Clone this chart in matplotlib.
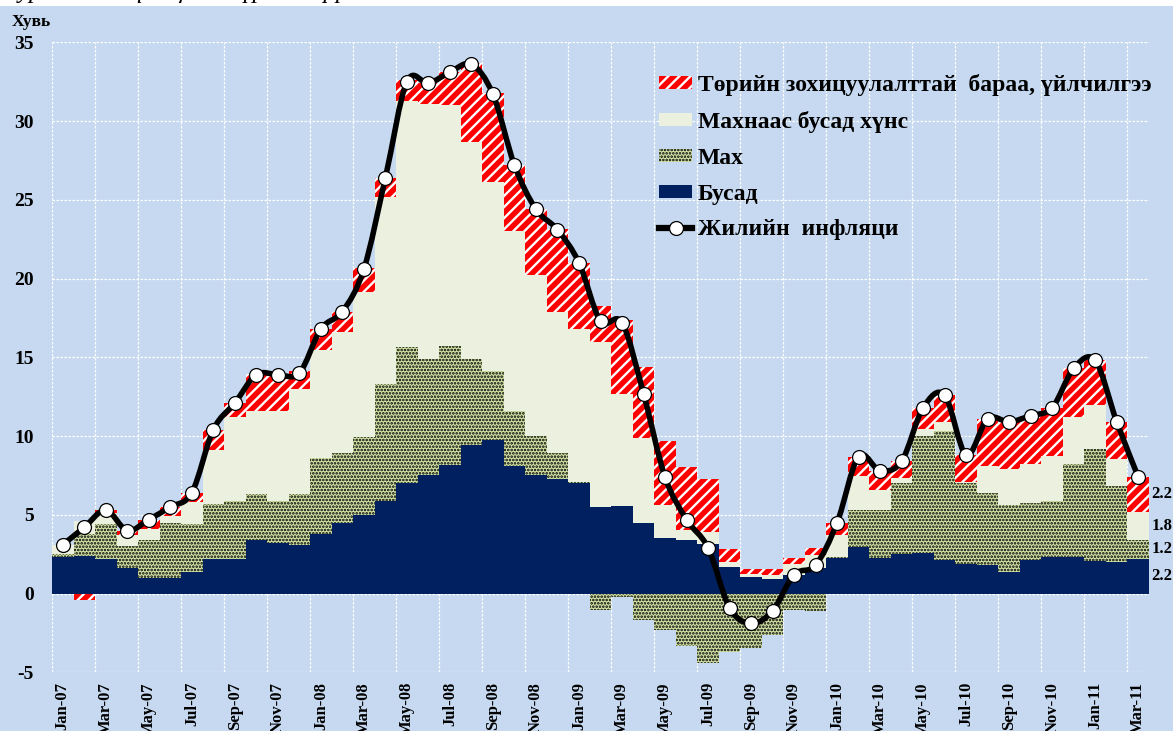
import numpy as np
import matplotlib
matplotlib.use('Agg')
import matplotlib.pyplot as plt
from matplotlib.path import Path
from matplotlib.patches import PathPatch, Patch, Rectangle
from matplotlib.lines import Line2D

# Data ---------------------------------------------------------------------------------------- data
mon_names = ['Jan', 'Feb', 'Mar', 'Apr', 'May', 'Jun', 'Jul', 'Aug', 'Sep', 'Oct', 'Nov', 'Dec']
months = [f'{m}-{y:02d}' for y in range(7, 12) for m in mon_names][:51]   # Jan-07 .. Mar-11

# Бусад
busad = [2.3, 2.4, 2.2, 1.6, 1.0, 1.0, 1.4, 2.2, 2.2, 3.4, 3.2, 3.1,
         3.8, 4.5, 5.0, 5.9, 7.0, 7.55, 8.15, 9.4, 9.75, 8.1, 7.5, 7.3,
         7.0, 5.5, 5.55, 4.45, 3.5, 3.4, 3.15, 1.7, 1.05, 0.9, 1.15, 1.6,
         2.25, 2.95, 2.25, 2.5, 2.6, 2.1, 1.9, 1.8, 1.4, 2.1, 2.3, 2.35,
         2.05, 2.0, 2.2]
# Мах
mah = [0.2, 1.4, 2.2, 1.4, 2.4, 3.5, 3.0, 3.5, 3.7, 2.9, 2.7, 3.2,
       4.8, 4.45, 4.95, 7.4, 8.65, 7.35, 7.55, 5.5, 4.35, 3.5, 2.5, 1.65,
       0.1, -1.05, -0.2, -1.7, -2.3, -3.35, -4.4, -3.7, -3.45, -2.65, -1.05, -1.1,
       0.1, 2.35, 3.05, 4.5, 7.4, 8.2, 5.1, 4.6, 4.2, 3.65, 3.55, 5.9,
       7.1, 4.85, 1.2]
# Махнаас бусад хүнс
nonmeat = [0.6, 0.8, 0.7, 0.7, 0.7, 0.4, 1.4, 3.4, 5.3, 5.3, 5.7, 6.7,
           6.85, 7.65, 9.2, 11.9, 15.65, 16.2, 15.3, 13.8, 12.0, 11.4, 10.2, 8.95,
           9.7, 10.5, 7.15, 5.4, 2.1, 0.65, 0.75, 0.3, 0.2, 0.3, 0.75, 0.85,
           1.35, 2.15, 1.3, 0.35, 0.45, 0.6, 0.1, 1.7, 2.3, 2.45, 2.9, 2.95,
           2.85, 1.7, 1.8]
# Төрийн зохицуулалттай бараа, үйлчилгээ
regulated = [0.0, -0.4, 0.2, 0.3, 0.6, 0.6, 0.6, 1.3, 0.9, 2.35, 2.35, 1.1,
             1.35, 1.3, 1.5, 1.2, 1.3, 1.3, 2.1, 5.0, 5.7, 4.2, 4.2, 5.25,
             4.2, 2.25, 4.7, 4.55, 4.1, 4.0, 3.4, 0.8, 0.3, 0.35, 0.35, 0.45,
             0.75, 1.25, 1.15, 1.05, 1.35, 1.7, 1.7, 3.0, 3.0, 3.1, 3.05, 3.1,
             2.8, 2.35, 2.2]
# Жилийн инфляци
inflation = [3.1, 4.2, 5.3, 4.0, 4.7, 5.5, 6.4, 10.4, 12.1, 13.9, 13.9, 14.0,
             16.8, 17.9, 20.6, 26.4, 32.5, 32.4, 33.1, 33.6, 31.7, 27.2, 24.4, 23.1,
             21.0, 17.3, 17.2, 12.7, 7.4, 4.7, 2.9, -0.9, -1.9, -1.1, 1.2, 1.8,
             4.5, 8.7, 7.8, 8.4, 11.8, 12.6, 8.8, 11.1, 10.9, 11.3, 11.8, 14.3,
             14.8, 10.9, 7.4]

labels = ['Төрийн зохицуулалттай  бараа, үйлчилгээ', 'Махнаас бусад хүнс', 'Мах', 'Бусад', 'Жилийн  инфляци']
caption = 'Зураг 4.  Инфляцийн бүрэлдэхүүн'

# Styles -------------------------------------------------------------------------------------- styles
BG = '#C6D9F0'
NAVY = '#002060'
CREAM = '#EBF1DE'
OLIVE = '#D2E2A4'
RED = '#FF0000'
FONT = 'Liberation Serif'

plt.rcParams['font.family'] = [FONT, 'DejaVu Serif']

styles = [
    dict(facecolor=NAVY, edgecolor=NAVY, linewidth=0),
    dict(facecolor=OLIVE, edgecolor='black', hatch='.....', linewidth=0),
    dict(facecolor=CREAM, edgecolor=CREAM, linewidth=0),
    dict(facecolor=RED, edgecolor='white', hatch='///', linewidth=0),
]
hatch_lw = [1.0, 1.25, 1.0, 1.7]


def set_hlw(artist, lw):
    if hasattr(artist, 'set_hatch_linewidth'):
        artist.set_hatch_linewidth(lw)


W, H = 1173, 731
fig = plt.figure(figsize=(W / 100, H / 100), dpi=100, facecolor=BG)
ax = fig.add_axes([52 / W, 1 - 672.3 / H, 1097 / W, 630 / H])
ax.set_facecolor(BG)

# white strip with cut caption at the top
fig.patches.append(Rectangle((0, 1 - 6 / H), 1, 6 / H, transform=fig.transFigure,
                             facecolor='white', edgecolor='none', zorder=0))
fig.text(6 / W, 1 + 2 / H, caption, fontsize=18, style='italic', ha='left', va='baseline')

n = len(months)
x = np.arange(n)

# stacked bars (positives up, negatives down) ------------------------------------------------ bars
pos_base = np.zeros(n)
neg_base = np.zeros(n)
last_centers = []
for vals, st, hlw in zip([busad, mah, nonmeat, regulated], styles, hatch_lw):
    v = np.array(vals, dtype=float)
    bottom = np.where(v >= 0, pos_base, neg_base)
    with plt.rc_context({'hatch.linewidth': hlw}):
        bars = ax.bar(x, v, width=1.0, bottom=bottom, zorder=2, **st)
    for b in bars:
        set_hlw(b, hlw)
    last_centers.append((bottom[-1] + v[-1] / 2, v[-1]))
    pos_base += np.clip(v, 0, None)
    neg_base += np.clip(v, None, 0)

# smoothed inflation line (Catmull-Rom -> cubic bezier) --------------------------------------- line
pts = np.column_stack([x, inflation]).astype(float)
ext = np.vstack([pts[0], pts, pts[-1]])
verts = [pts[0]]
codes = [Path.MOVETO]
for i in range(1, len(ext) - 2):
    p0, p1, p2, p3 = ext[i - 1], ext[i], ext[i + 1], ext[i + 2]
    verts += [p1 + (p2 - p0) / 6, p2 - (p3 - p1) / 6, p2]
    codes += [Path.CURVE4] * 3
ax.add_patch(PathPatch(Path(verts, codes), facecolor='none', edgecolor='black',
                       linewidth=4.0, zorder=4, capstyle='round', joinstyle='round'))
ax.plot(x, inflation, linestyle='none', marker='o', markersize=10, markerfacecolor='white',
        markeredgecolor='black', markeredgewidth=0.9, zorder=5)

# value labels for the last month
for yc, v in last_centers:
    ax.text(n - 0.5 + 0.12, yc, f'{v:.1f}', ha='left', va='center', fontsize=12,
            fontweight='bold', clip_on=False)

# axes ---------------------------------------------------------------------------------------- axes
ax.set_xlim(-0.5, n - 0.5)
ax.set_ylim(-5, 35)
ax.set_yticks(np.arange(-5, 36, 5))
ax.set_yticklabels([str(v) for v in range(-5, 36, 5)], fontsize=14, fontweight='bold')
ax.set_xticks(x[::2])
ax.set_xticklabels(months[::2], rotation=90, fontsize=12, fontweight='bold', va='top')
ax.set_xticks(np.arange(-0.5, n - 1, 2), minor=True)
ax.tick_params(axis='both', which='both', length=0)
ax.tick_params(axis='y', pad=13)
ax.tick_params(axis='x', pad=7)
ax.set_axisbelow(True)
ax.grid(axis='y', which='major', color='white', linestyle=(0, (2, 1.2)), linewidth=0.9)
ax.grid(axis='x', which='minor', color='white', linestyle=(0, (2, 1.2)), linewidth=0.9)
for s in ax.spines.values():
    s.set_visible(False)

fig.text(12 / W, 1 - 22 / H, 'Хувь', fontsize=12.5, fontweight='bold', va='center', ha='left')

# legend -------------------------------------------------------------------------------------- legend
handles = [
    Patch(facecolor=RED, edgecolor='white', hatch='///', linewidth=0),
    Patch(facecolor=CREAM, edgecolor=CREAM, linewidth=0),
    Patch(facecolor=OLIVE, edgecolor='black', hatch='.....', linewidth=0),
    Patch(facecolor=NAVY, edgecolor=NAVY, linewidth=0),
    Line2D([], [], color='black', linewidth=4.5, marker='o', markersize=10,
           markerfacecolor='white', markeredgecolor='black', markeredgewidth=0.9),
]
leg = ax.legend(handles, labels, loc='upper left', bbox_to_anchor=(659 / W, 1 - 74 / H),
                bbox_transform=fig.transFigure, frameon=False, borderpad=0, borderaxespad=0,
                handlelength=1.4, handleheight=0.45, handletextpad=0.25, labelspacing=0.63,
                prop={'family': FONT, 'weight': 'bold', 'size': 17})
for h, hlw in zip(leg.get_patches(), [1.7, 1.0, 1.25, 1.0]):
    set_hlw(h, hlw)

fig.savefig('out.png', dpi=100, facecolor=BG)
